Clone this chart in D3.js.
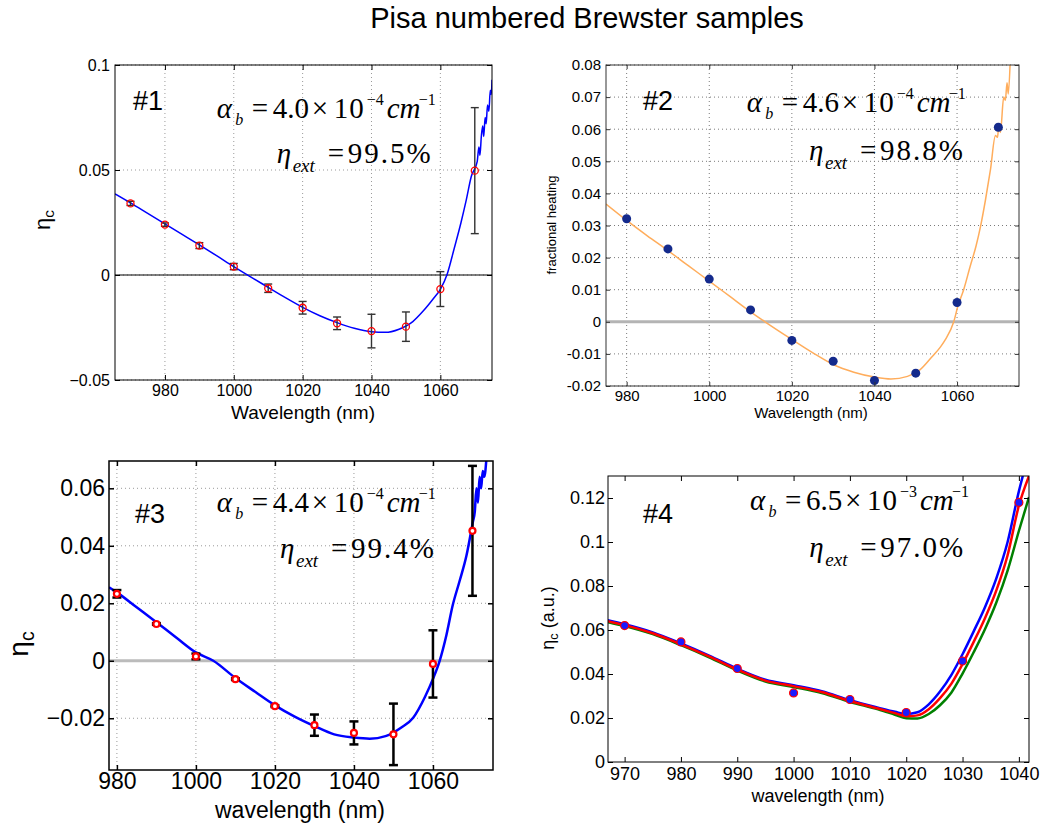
<!DOCTYPE html>
<html>
<head>
<meta charset="utf-8">
<script src="https://cdn.jsdelivr.net/npm/d3@7"></script>
<style>
  body { margin: 0; background: #fff; }
  svg { display: block; }
</style>
</head>
<body>
<script>
// ---------------- data ----------------
// Sample #1: measured cooling efficiency with error bars, and model curve
const wl1 = [970, 980, 990, 1000, 1010, 1020, 1030, 1040, 1050, 1060, 1070];
const eta1 = [0.0341, 0.0240, 0.0140, 0.0040, -0.0063, -0.0156, -0.0230, -0.0267, -0.0246, -0.0067, 0.0497];
const err1 = [0.0010, 0.0008, 0.0014, 0.0015, 0.0020, 0.0030, 0.0030, 0.0080, 0.0070, 0.0083, 0.0300];
const fitWl1 = [965.5, 970, 975, 980, 985, 990, 995, 1000, 1005, 1010, 1015, 1020, 1025, 1030, 1035, 1040, 1044, 1048, 1052, 1055, 1058, 1060, 1062, 1064, 1066, 1067.5, 1069, 1070.7, 1071.2, 1071.5, 1071.9, 1072.3, 1072.6, 1073.0, 1073.3, 1073.7, 1074.1, 1074.5, 1074.8, 1075];
const fitEta1 = [0.0386, 0.0343, 0.0293, 0.0243, 0.0193, 0.0143, 0.0092, 0.0040, -0.0010, -0.0059, -0.0108, -0.0154, -0.0194, -0.0227, -0.0254, -0.0270, -0.0273, -0.0258, -0.0222, -0.0172, -0.0112, -0.0068, 0.0005, 0.0125, 0.0250, 0.0355, 0.0470, 0.0540, 0.0610, 0.0570, 0.0660, 0.0710, 0.0660, 0.0750, 0.0720, 0.0810, 0.0780, 0.0880, 0.0860, 0.0930];

// Sample #2: fractional heating points and model curve
const wl2 = [980, 990, 1000, 1010, 1020, 1030, 1040, 1050, 1060, 1070];
const heat2 = [0.0321, 0.0227, 0.0133, 0.0037, -0.0058, -0.0123, -0.0183, -0.0160, 0.0060, 0.0606];
const fitWl2 = [975, 980, 985, 990, 995, 1000, 1005, 1010, 1013.5, 1020, 1025, 1030, 1035, 1040, 1044, 1048, 1051, 1054, 1056, 1057.2, 1059.2, 1060.2, 1061.6, 1063.2, 1064.6, 1065.7, 1066.9, 1068.1, 1069.3, 1069.8, 1070.1, 1070.5, 1071.3, 1071.7, 1072.1, 1072.4, 1072.9];
const fitHeat2 = [0.0367, 0.0316, 0.0268, 0.0222, 0.0174, 0.0127, 0.0079, 0.0031, 0.0000, -0.0055, -0.0096, -0.0133, -0.0157, -0.0172, -0.0178, -0.0170, -0.0150, -0.0108, -0.0078, -0.0055, 0.0000, 0.0049, 0.0100, 0.0174, 0.0236, 0.0298, 0.0381, 0.0475, 0.0580, 0.0575, 0.0610, 0.0590, 0.0700, 0.0690, 0.0745, 0.0710, 0.0820];

// Sample #3
const wl3 = [980, 990, 1000, 1010, 1020, 1030, 1040, 1050, 1060, 1070];
const eta3 = [0.0233, 0.0128, 0.0015, -0.0064, -0.0158, -0.0224, -0.0251, -0.0256, -0.0011, 0.0452];
const err3 = [0.0013, 0.0003, 0.0010, 0.0003, 0.0003, 0.0037, 0.0040, 0.0107, 0.0117, 0.0226];
const fitWl3 = [978, 980, 985, 990, 995, 1000, 1004.4, 1010, 1015, 1020, 1025, 1030, 1035, 1040, 1044, 1048, 1052, 1055, 1058, 1060, 1061.7, 1063.4, 1065, 1066.8, 1068.5, 1070.1, 1070.6, 1071.0, 1071.4, 1071.8, 1072.2, 1072.6, 1073.0, 1073.5];
const fitEta3 = [0.0256, 0.0238, 0.0186, 0.0134, 0.0081, 0.0029, 0.0000, -0.0060, -0.0108, -0.0155, -0.0194, -0.0227, -0.0256, -0.0267, -0.0271, -0.0262, -0.0232, -0.0198, -0.0125, -0.0063, 0.0000, 0.0089, 0.0193, 0.0280, 0.0367, 0.0483, 0.0520, 0.0600, 0.0550, 0.0640, 0.0600, 0.0660, 0.0640, 0.0697];

// Sample #4: points and three model curves
const wl4 = [970, 980, 990, 1000, 1010, 1020, 1030, 1040];
const eta4 = [0.0620, 0.0546, 0.0425, 0.0314, 0.0284, 0.0225, 0.0459, 0.1180];
const fitWl4 = [967, 970, 975, 980, 985, 990, 995, 1000, 1005, 1010, 1015, 1018, 1020, 1022, 1024, 1026, 1028, 1030, 1032, 1034, 1036, 1038, 1040, 1041.8];
const fitRed4 = [0.0640, 0.0622, 0.0585, 0.0535, 0.0480, 0.0420, 0.0370, 0.0345, 0.0318, 0.0277, 0.0243, 0.0222, 0.0208, 0.0212, 0.0240, 0.0290, 0.0355, 0.0445, 0.0547, 0.0655, 0.0780, 0.0940, 0.1165, 0.1300];
const fitGreen4 = [0.0636, 0.0618, 0.0581, 0.0531, 0.0476, 0.0416, 0.0366, 0.0341, 0.0314, 0.0273, 0.0239, 0.0215, 0.0199, 0.0198, 0.0218, 0.0258, 0.0315, 0.0402, 0.0500, 0.0605, 0.0725, 0.0870, 0.1050, 0.1204];
const fitWlBlue4 = [967, 970, 975, 980, 985, 990, 995, 1000, 1005, 1010, 1015, 1018, 1020, 1022, 1024, 1026, 1028, 1030, 1032, 1034, 1036, 1038, 1040, 1040.7];
const fitBlue4 = [0.0644, 0.0626, 0.0589, 0.0539, 0.0484, 0.0424, 0.0374, 0.0349, 0.0322, 0.0281, 0.0247, 0.0228, 0.0218, 0.0226, 0.0262, 0.0320, 0.0395, 0.0490, 0.0595, 0.0705, 0.0835, 0.1000, 0.1230, 0.1300];

// axis ticks and tick labels
const xTicks20 = [980, 1000, 1020, 1040, 1060];
const xTicks4 = [970, 980, 990, 1000, 1010, 1020, 1030, 1040];
const yTicks1 = [-0.05, 0, 0.05, 0.1];
const yLabels1 = ["\u22120.05", "0", "0.05", "0.1"];
const yTicks2 = [-0.02, -0.01, 0, 0.01, 0.02, 0.03, 0.04, 0.05, 0.06, 0.07, 0.08];
const yLabels2 = ["-0.02", "-0.01", "0", "0.01", "0.02", "0.03", "0.04", "0.05", "0.06", "0.07", "0.08"];
const yTicks3 = [-0.02, 0, 0.02, 0.04, 0.06];
const yLabels3 = ["\u22120.02", "0", "0.02", "0.04", "0.06"];
const yTicks4 = [0, 0.02, 0.04, 0.06, 0.08, 0.1, 0.12];
const yLabels4 = ["0", "0.02", "0.04", "0.06", "0.08", "0.1", "0.12"];

// ---------------- drawing ----------------
const SANS = "'Liberation Sans', Arial, Helvetica, sans-serif";
const SERIF = "'Liberation Serif', 'Times New Roman', serif";

const svg = d3.select("body").append("svg")
  .attr("width", 1045).attr("height", 828)
  .style("background", "#fff");
const defs = svg.append("defs");

svg.append("text")
  .attr("x", 587).attr("y", 28).attr("text-anchor", "middle")
  .attr("font-family", SANS).attr("font-size", 29).attr("fill", "#000")
  .text("Pisa numbered Brewster samples");

function makePanel(o) {
  const [L, T, R, B] = o.box;
  const x = d3.scaleLinear().domain(o.xDomain).range([L, R]);
  const y = d3.scaleLinear().domain(o.yDomain).range([B, T]);
  const root = svg.append("g");
  const gridG = root.append("g");
  const dataG = root.append("g");
  const axesG = root.append("g");

  const clipId = "clip-" + o.id;
  defs.append("clipPath").attr("id", clipId).append("rect")
    .attr("x", L).attr("y", T).attr("width", R - L).attr("height", B - T);

  if (o.grid) {
    gridG.append("g").selectAll("line").data(o.xTicks).join("line")
      .attr("x1", d => x(d)).attr("x2", d => x(d)).attr("y1", T).attr("y2", B)
      .attr("stroke", o.gridColor).attr("stroke-width", 1).attr("stroke-dasharray", "1,3");
    gridG.append("g").selectAll("line").data(o.yTicks).join("line")
      .attr("x1", L).attr("x2", R).attr("y1", d => y(d)).attr("y2", d => y(d))
      .attr("stroke", o.gridColor).attr("stroke-width", 1).attr("stroke-dasharray", "1,3");
  }
  if (o.zeroColor) {
    gridG.append("line").attr("x1", L).attr("x2", R).attr("y1", y(0)).attr("y2", y(0))
      .attr("stroke", o.zeroColor).attr("stroke-width", o.zeroWidth);
  }

  // axes with inward ticks on all four sides
  const bottom = axesG.append("g").attr("transform", `translate(0,${B})`)
    .call(d3.axisBottom(x).tickValues(o.xTicks).tickSize(-o.tickLen).tickPadding(o.xPad).tickFormat(d3.format("d")));
  const left = axesG.append("g").attr("transform", `translate(${L},0)`)
    .call(d3.axisLeft(y).tickValues(o.yTicks).tickSize(-o.tickLen).tickPadding(o.yPad).tickFormat((d, i) => o.yLabels[i]));
  axesG.append("g").attr("transform", `translate(0,${T})`)
    .call(d3.axisTop(x).tickValues(o.xTicks).tickSize(-o.tickLen).tickFormat(""));
  axesG.append("g").attr("transform", `translate(${R},0)`)
    .call(d3.axisRight(y).tickValues(o.yTicks).tickSize(-o.tickLen).tickFormat(""));
  axesG.selectAll(".domain").remove();
  axesG.selectAll(".tick line").attr("stroke", o.frameColor).attr("stroke-width", o.frameWidth);
  [bottom, left].forEach(a => a.attr("font-family", SANS).attr("font-size", o.tickFont)
    .selectAll("text").attr("fill", "#000"));

  axesG.append("rect").attr("x", L).attr("y", T).attr("width", R - L).attr("height", B - T)
    .attr("fill", "none").attr("stroke", o.frameColor).attr("stroke-width", o.frameWidth);

  // axis titles
  axesG.append("text").attr("x", o.xLabelPos[0]).attr("y", o.xLabelPos[1])
    .attr("text-anchor", "middle").attr("font-family", SANS).attr("font-size", o.xLabelFont)
    .attr("fill", "#000").text(o.xLabel);
  const yl = axesG.append("text")
    .attr("transform", `translate(${o.yLabelPos[0]},${o.yLabelPos[1]}) rotate(-90)`)
    .attr("text-anchor", "middle").attr("font-family", SANS).attr("font-size", o.yLabelFont)
    .attr("fill", "#000");
  o.yLabelParts.forEach(p => {
    const ts = yl.append("tspan").text(p.t);
    if (p.sub) ts.attr("font-size", o.yLabelFont * 0.7).attr("dy", o.yLabelFont * 0.2);
    if (p.back) ts.attr("dy", -o.yLabelFont * 0.2);
  });

  return { x, y, dataG, axesG, clip: `url(#${clipId})` };
}

function drawCurve(p, xs, ys, color, width) {
  const line = d3.line().x(d => p.x(d[0])).y(d => p.y(d[1])).curve(d3.curveMonotoneX);
  p.dataG.append("path").datum(d3.zip(xs, ys)).attr("d", line)
    .attr("fill", "none").attr("stroke", color).attr("stroke-width", width)
    .attr("stroke-linejoin", "round").attr("clip-path", p.clip);
}

function drawErrorBars(p, xs, ys, es, color, width, cap) {
  const g = p.dataG.append("g").attr("stroke", color).attr("stroke-width", width);
  const rows = d3.zip(xs, ys, es);
  g.selectAll("line.v").data(rows).join("line").attr("class", "v")
    .attr("x1", d => p.x(d[0])).attr("x2", d => p.x(d[0]))
    .attr("y1", d => p.y(d[1] - d[2])).attr("y2", d => p.y(d[1] + d[2]));
  g.selectAll("line.t").data(rows).join("line").attr("class", "t")
    .attr("x1", d => p.x(d[0]) - cap / 2).attr("x2", d => p.x(d[0]) + cap / 2)
    .attr("y1", d => p.y(d[1] + d[2])).attr("y2", d => p.y(d[1] + d[2]));
  g.selectAll("line.b").data(rows).join("line").attr("class", "b")
    .attr("x1", d => p.x(d[0]) - cap / 2).attr("x2", d => p.x(d[0]) + cap / 2)
    .attr("y1", d => p.y(d[1] - d[2])).attr("y2", d => p.y(d[1] - d[2]));
}

function drawMarkers(p, xs, ys, r, fill, stroke, sw) {
  p.dataG.append("g").selectAll("circle").data(d3.zip(xs, ys)).join("circle")
    .attr("cx", d => p.x(d[0])).attr("cy", d => p.y(d[1])).attr("r", r)
    .attr("fill", fill).attr("stroke", stroke).attr("stroke-width", sw);
}

// sample tag and absorption / efficiency annotation
function annotate(p, tag, tagX, tagY, ax, ay, coef, expo, ex, ey, pct) {
  const g = p.axesG;
  g.append("text").attr("x", tagX).attr("y", tagY).attr("font-family", SANS)
    .attr("font-size", 27).attr("fill", "#000").text(tag);
  const piece = (x, y, s, size, italic, spacing) => {
    const t = g.append("text").attr("x", x).attr("y", y).attr("font-family", SERIF)
      .attr("font-size", size).attr("font-style", italic ? "italic" : "normal")
      .attr("fill", "#000").text(s);
    if (spacing) t.attr("letter-spacing", spacing);
  };
  const F = 29, S = 16;
  piece(ax, ay, "\u03b1", F, true);
  piece(ax + 18.5, ay + 7, "b", S, true);
  piece(ax + 35, ay, "=", F, false);
  piece(ax + 56, ay, coef, F, false);
  piece(ax + 95, ay, "\u00d7", F, false);
  piece(ax + 117, ay, "10", F, false, 1);
  piece(ax + 150, ay - 13, "\u2212" + expo, S, false);
  piece(ax + 170, ay, "cm", F, true);
  piece(ax + 202, ay - 13, "\u22121", S, false);
  piece(ex, ey, "\u03b7", F, true);
  piece(ex + 16, ey + 9, "ext", 19, true);
  piece(ex + 51, ey, "=", F, false);
  piece(ex + 71, ey, pct, F, false, 2);
}

// ---- panel #1 ----
const p1 = makePanel({
  id: "p1", box: [115, 65, 492, 380], xDomain: [965.5, 1075], yDomain: [-0.05, 0.1],
  xTicks: xTicks20, yTicks: yTicks1, yLabels: yLabels1,
  grid: true, gridColor: "#9a9a9a", zeroColor: "#000", zeroWidth: 1,
  frameColor: "#000", frameWidth: 1, tickLen: 5, tickFont: 16, xPad: 5, yPad: 5,
  xLabel: "Wavelength (nm)", xLabelFont: 19, xLabelPos: [303, 419],
  yLabelParts: [{ t: "\u03b7" }, { t: "c", sub: true }], yLabelFont: 22, yLabelPos: [50, 220]
});
drawCurve(p1, fitWl1, fitEta1, "#0000ff", 1.5);
drawErrorBars(p1, wl1, eta1, err1, "#333", 1.4, 8);
drawMarkers(p1, wl1, eta1, 3.5, "none", "#ff0000", 1.3);
annotate(p1, "#1", 133, 110, 216.7, 117.7, "4.0", "4", 276.7, 163.3, "99.5%");

// ---- panel #2 ----
const p2 = makePanel({
  id: "p2", box: [606, 65, 1019, 386], xDomain: [975, 1075], yDomain: [-0.02, 0.08],
  xTicks: xTicks20, yTicks: yTicks2, yLabels: yLabels2,
  grid: true, gridColor: "#7a7a7a", zeroColor: "#b4b4b4", zeroWidth: 3,
  frameColor: "#333", frameWidth: 1, tickLen: 4, tickFont: 15, xPad: 4, yPad: 5,
  xLabel: "Wavelength (nm)", xLabelFont: 15, xLabelPos: [811, 418],
  yLabelParts: [{ t: "fractional heating" }], yLabelFont: 13, yLabelPos: [556, 225]
});
drawCurve(p2, fitWl2, fitHeat2, "#ffad5c", 1.5);
drawMarkers(p2, wl2, heat2, 4.5, "#142a8c", "none", 0);
annotate(p2, "#2", 643, 110, 746.7, 111.7, "4.6", "4", 809, 160, "98.8%");

// ---- panel #3 ----
const p3 = makePanel({
  id: "p3", box: [109, 461, 493, 770], xDomain: [978, 1075.2], yDomain: [-0.038, 0.0695],
  xTicks: xTicks20, yTicks: yTicks3, yLabels: yLabels3,
  grid: true, gridColor: "#9a9a9a", zeroColor: "#bbbbbb", zeroWidth: 3,
  frameColor: "#000", frameWidth: 1.5, tickLen: 5, tickFont: 23, xPad: 3, yPad: 4,
  xLabel: "wavelength (nm)", xLabelFont: 23, xLabelPos: [300, 818],
  yLabelParts: [{ t: "\u03b7" }, { t: "c", sub: true }], yLabelFont: 28, yLabelPos: [28, 644]
});
drawCurve(p3, fitWl3, fitEta3, "#0000ff", 2.5);
drawErrorBars(p3, wl3, eta3, err3, "#000", 2.5, 9);
drawMarkers(p3, wl3, eta3, 3, "#fff", "#ff0000", 2.2);
annotate(p3, "#3", 135, 523, 216.7, 511.7, "4.4", "4", 280, 558.3, "99.4%");

// ---- panel #4 ----
const p4 = makePanel({
  id: "p4", box: [608, 476, 1029, 762], xDomain: [967.05, 1041.8], yDomain: [0, 0.13],
  xTicks: xTicks4, yTicks: yTicks4, yLabels: yLabels4,
  grid: false, frameColor: "#000", frameWidth: 1, tickLen: 5, tickFont: 18, xPad: 5, yPad: 3,
  xLabel: "wavelength (nm)", xLabelFont: 18, xLabelPos: [818, 802],
  yLabelParts: [{ t: "\u03b7" }, { t: "c", sub: true }, { t: " (a.u.)", back: true }], yLabelFont: 18, yLabelPos: [554, 618]
});
drawCurve(p4, fitWl4, fitGreen4, "#008000", 2.5);
drawCurve(p4, fitWlBlue4, fitBlue4, "#0000ff", 2.5);
drawCurve(p4, fitWl4, fitRed4, "#ff0000", 2.5);
drawMarkers(p4, wl4, eta4, 4, "#1a1aff", "#ff0000", 1.2);
annotate(p4, "#4", 643, 523, 750, 510, "6.5", "3", 809.3, 556.7, "97.0%");
</script>
</body>
</html>
